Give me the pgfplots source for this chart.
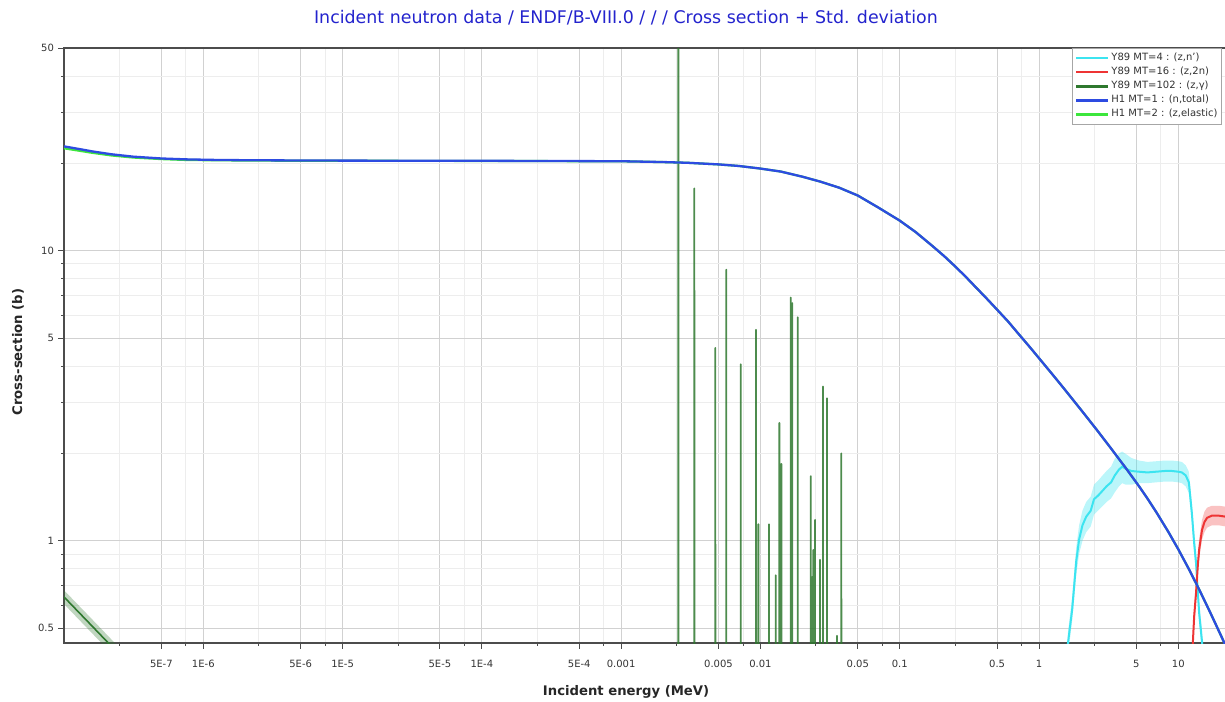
\documentclass[border=0pt]{standalone}
\usepackage{fontspec}
\setmainfont{DejaVu Sans}
\usepackage{pgfplots}
\usepackage{pgfplotstable}
\pgfplotsset{compat=1.18}
\usepgfplotslibrary{fillbetween}

\definecolor{titleblue}{RGB}{35,35,205}
\definecolor{cyanline}{RGB}{60,228,240}
\definecolor{redline}{RGB}{238,52,52}
\definecolor{dkgreen}{RGB}{46,120,46}
\definecolor{totblue}{RGB}{45,75,225}
\definecolor{elgreen}{RGB}{60,230,60}

% Y89 MT=4 (z,n'): energy, xs, lower, upper
\pgfplotstableread{
E s lo hi
1.45 0.10 0.09 0.11
1.61 0.44 0.40 0.48
1.73 0.58 0.53 0.64
1.85 0.85 0.76 0.95
1.94 1.01 0.90 1.13
2.05 1.13 1.00 1.27
2.18 1.21 1.07 1.36
2.35 1.27 1.12 1.42
2.48 1.39 1.23 1.56
2.65 1.43 1.27 1.61
2.83 1.48 1.31 1.67
3.05 1.54 1.36 1.74
3.29 1.59 1.40 1.80
3.50 1.68 1.47 1.92
3.75 1.76 1.54 2.00
3.95 1.80 1.58 2.03
4.21 1.77 1.56 1.99
4.60 1.74 1.56 1.93
5.22 1.73 1.58 1.89
6.00 1.72 1.58 1.87
6.92 1.73 1.59 1.88
8.00 1.74 1.60 1.89
9.00 1.74 1.60 1.89
10.0 1.73 1.59 1.88
10.6 1.72 1.58 1.87
11.3 1.68 1.54 1.82
11.9 1.59 1.46 1.73
12.5 1.25 1.15 1.36
13.0 0.98 0.90 1.07
13.4 0.84 0.77 0.92
14.1 0.566 0.52 0.62
14.8 0.448 0.41 0.49
15.3 0.30 0.27 0.33
}\inel

% Y89 MT=16 (z,2n)
\pgfplotstableread{
E s lo hi
12.3 0.20 0.18 0.22
12.7 0.44 0.40 0.48
13.0 0.55 0.50 0.60
13.4 0.66 0.61 0.72
13.8 0.82 0.76 0.89
14.1 0.93 0.86 1.01
14.8 1.09 1.01 1.18
15.4 1.16 1.07 1.26
16.1 1.20 1.11 1.30
17.4 1.22 1.13 1.32
18.5 1.22 1.13 1.32
19.6 1.22 1.13 1.32
22.0 1.21 1.12 1.31
}\ntwon

% Y89 MT=102 (z,gamma), 1/v part
\pgfplotstableread{
E s lo hi
1.0e-7 0.640 0.605 0.675
1.5e-7 0.523 0.494 0.552
2.0e-7 0.453 0.428 0.478
3.0e-7 0.370 0.350 0.390
}\capov

% Y89 MT=102 resonances
\pgfplotstableread{
E s
0.0025737 0.01
0.002575 500
0.0025763 0.01
0.0033513 0.01
0.003353 16.4
0.0033547 0.01
0.0047416 0.01
0.004744 4.62
0.0047464 0.01
0.0056862 0.01
0.005689 8.6
0.0056918 0.01
0.0072184 0.01
0.007222 4.06
0.0072256 0.01
0.0092924 0.01
0.009297 5.34
0.0093016 0.01
0.0096552 0.01
0.009660 1.14
0.0096648 0.01
0.0115242 0.01
0.011530 1.14
0.0115358 0.01
0.0128736 0.01
0.012880 0.76
0.0128864 0.01
0.0136632 0.01
0.013670 2.55
0.0136768 0.01
0.0141229 0.01
0.014130 1.84
0.0141371 0.01
0.0164918 0.01
0.016500 6.9
0.0165083 0.01
0.0169315 0.01
0.016940 6.6
0.0169485 0.01
0.0185207 0.01
0.018530 5.9
0.0185393 0.01
0.0229585 0.01
0.022970 1.67
0.0229815 0.01
0.0235782 0.01
0.023590 0.75
0.0236018 0.01
0.0239680 0.01
0.023980 0.93
0.0239920 0.01
0.0246477 0.01
0.024660 1.18
0.0246723 0.01
0.0267766 0.01
0.026790 0.86
0.0268034 0.01
0.0281259 0.01
0.028140 3.4
0.0281541 0.01
0.0300450 0.01
0.030060 3.1
0.0300750 0.01
0.0354623 0.01
0.035480 0.47
0.0354977 0.01
0.0380710 0.01
0.038090 2.0
0.0381090 0.01
}\capres

% H1 MT=1 total and MT=2 elastic
\pgfplotstableread{
E tot el
1.0e-7 22.9 22.55
1.3e-7 22.4 22.1
1.6e-7 22.0 21.75
2.2e-7 21.5 21.3
3.15e-7 21.1 20.95
5.0e-7 20.8 20.7
7.6e-7 20.65 20.55
1.3e-6 20.55 20.5
2.55e-6 20.5 20.45
1.0e-5 20.45 20.42
1.0e-4 20.42 20.40
1.0e-3 20.35 20.34
2.0e-3 20.22 20.21
3.0e-3 20.1 20.1
5.0e-3 19.85 19.84
7.0e-3 19.6 19.6
1.0e-2 19.2 19.2
1.4e-2 18.75 18.75
2.0e-2 18.0 18.0
2.7e-2 17.3 17.3
3.67e-2 16.5 16.5
5.0e-2 15.5 15.5
7.0e-2 14.1 14.1
0.1 12.7 12.7
0.13 11.6 11.6
0.171 10.4 10.4
0.21 9.55 9.55
0.255 8.75 8.75
0.3 8.1 8.1
0.35 7.5 7.5
0.42 6.85 6.85
0.51 6.2 6.2
0.6 5.7 5.7
0.7 5.22 5.22
0.85 4.68 4.68
1.0 4.26 4.26
1.25 3.743 3.743
1.5 3.362 3.362
2.0 2.829 2.829
2.6 2.411 2.411
3.34 2.061 2.061
4.2 1.780 1.780
5.23 1.540 1.540
6.0 1.399 1.399
7.0 1.248 1.248
8.5 1.071 1.071
10.0 0.934 0.934
12.0 0.793 0.793
14.1 0.680 0.680
17.0 0.564 0.564
20.1 0.4745 0.4745
22.0 0.4316 0.4316
}\hyd

\begin{document}
\begin{tikzpicture}
\begin{axis}[
    at={(32pt,-321.5pt)}, anchor=south west,
    scale only axis, width=581pt, height=297.5pt,
    xmode=log, ymode=log,
    xmin=1e-7, xmax=22, ymin=0.444, ymax=50,
    axis line style={black!70, line width=0.6pt},
    xtick pos=left, ytick pos=left,
    tick align=outside,
    major tick length=3pt, minor tick length=1.5pt,
    tick style={black!70, line width=0.5pt},
    xtick={5e-7,1e-6,5e-6,1e-5,5e-5,1e-4,5e-4,1e-3,5e-3,1e-2,5e-2,0.1,0.5,1,5,10},
    xticklabels={5E-7,1E-6,5E-6,1E-5,5E-5,1E-4,5E-4,0.001,0.005,0.01,0.05,0.1,0.5,1,5,10},
    minor xtick={2.5e-7,7.5e-7,2.5e-6,7.5e-6,2.5e-5,7.5e-5,2.5e-4,7.5e-4,2.5e-3,7.5e-3,2.5e-2,7.5e-2,0.25,0.75,2.5,7.5},
    ytick={0.5,1,5,10,50},
    yticklabels={0.5,1,5,10,50},
    minor ytick={0.6,0.7,0.8,0.9,2,3,4,6,7,8,9,20,30,40},
    grid=both,
    major grid style={black!18, line width=0.5pt},
    minor grid style={black!7, line width=0.5pt},
    xticklabel style={font=\fontsize{5}{6}\selectfont, text=black!80, yshift=-2pt},
    yticklabel style={font=\fontsize{5}{6}\selectfont, text=black!80, xshift=1.5pt},
    title={Incident neutron data / ENDF/B-VIII.0 / / / Cross section + Std. deviation},
    title style={at={(axis description cs:0.4836,1.0504)}, anchor=center, yshift=-6pt,
        font=\fontsize{8.7}{10}\selectfont, text=titleblue},
    xlabel={Incident energy (MeV)},
    xlabel style={at={(axis description cs:0.4837,-0.0825)}, anchor=center,
        font=\bfseries\fontsize{6.6}{8}\selectfont, text=black!85},
    ylabel={Cross-section (b)},
    ylabel style={at={(axis description cs:-0.0396,0.489)}, anchor=center,
        font=\bfseries\fontsize{6.6}{8}\selectfont, text=black!85},
    legend style={at={(rel axis cs:0.8675,1)}, anchor=north west,
        draw=black!35, line width=0.4pt, fill=white,
        font=\fontsize{5}{6}\selectfont, text=black!80,
        inner sep=1.2pt, row sep=0pt, nodes={inner sep=0.9pt}},
    legend cell align=left,
    legend image code/.code={\draw[#1, line width=1.4pt] (0pt,0pt) -- (16pt,0pt);},
]
\addlegendimage{cyanline}
\addlegendentry{Y89 MT=4 : (z,n')}
\addlegendimage{redline}
\addlegendentry{Y89 MT=16 : (z,2n)}
\addlegendimage{dkgreen}
\addlegendentry{Y89 MT=102 : (z,γ)}
\addlegendimage{totblue}
\addlegendentry{H1 MT=1 : (n,total)}
\addlegendimage{elgreen}
\addlegendentry{H1 MT=2 : (z,elastic)}

% uncertainty bands
\addplot[draw=none, name path=ilo, forget plot] table[x=E, y=lo] {\inel};
\addplot[draw=none, name path=ihi, forget plot] table[x=E, y=hi] {\inel};
\addplot[fill=cyanline, fill opacity=0.35, draw=none, forget plot] fill between[of=ilo and ihi];
\addplot[draw=none, name path=rlo, forget plot] table[x=E, y=lo] {\ntwon};
\addplot[draw=none, name path=rhi, forget plot] table[x=E, y=hi] {\ntwon};
\addplot[fill=redline, fill opacity=0.3, draw=none, forget plot] fill between[of=rlo and rhi];
\addplot[draw=none, name path=clo, forget plot] table[x=E, y=lo] {\capov};
\addplot[draw=none, name path=chi, forget plot] table[x=E, y=hi] {\capov};
\addplot[fill=dkgreen, fill opacity=0.3, draw=none, forget plot] fill between[of=clo and chi];

% curves
\addplot[dkgreen, line width=0.8pt, forget plot] table[x=E, y=s] {\capov};
\addplot[dkgreen, line width=0.9pt, line join=round, opacity=0.85, forget plot] table[x=E, y=s] {\capres};
\addplot[cyanline, line width=1pt, forget plot] table[x=E, y=s] {\inel};
\addplot[redline, line width=1pt, forget plot] table[x=E, y=s] {\ntwon};
\addplot[elgreen, line width=1.1pt, forget plot] table[x=E, y=el] {\hyd};
\addplot[totblue, line width=1.15pt, line join=round, forget plot] table[x=E, y=tot] {\hyd};
\end{axis}
\pgfresetboundingbox
\useasboundingbox (0,0) rectangle (612.5pt,-350.5pt);
\end{tikzpicture}
\end{document}
